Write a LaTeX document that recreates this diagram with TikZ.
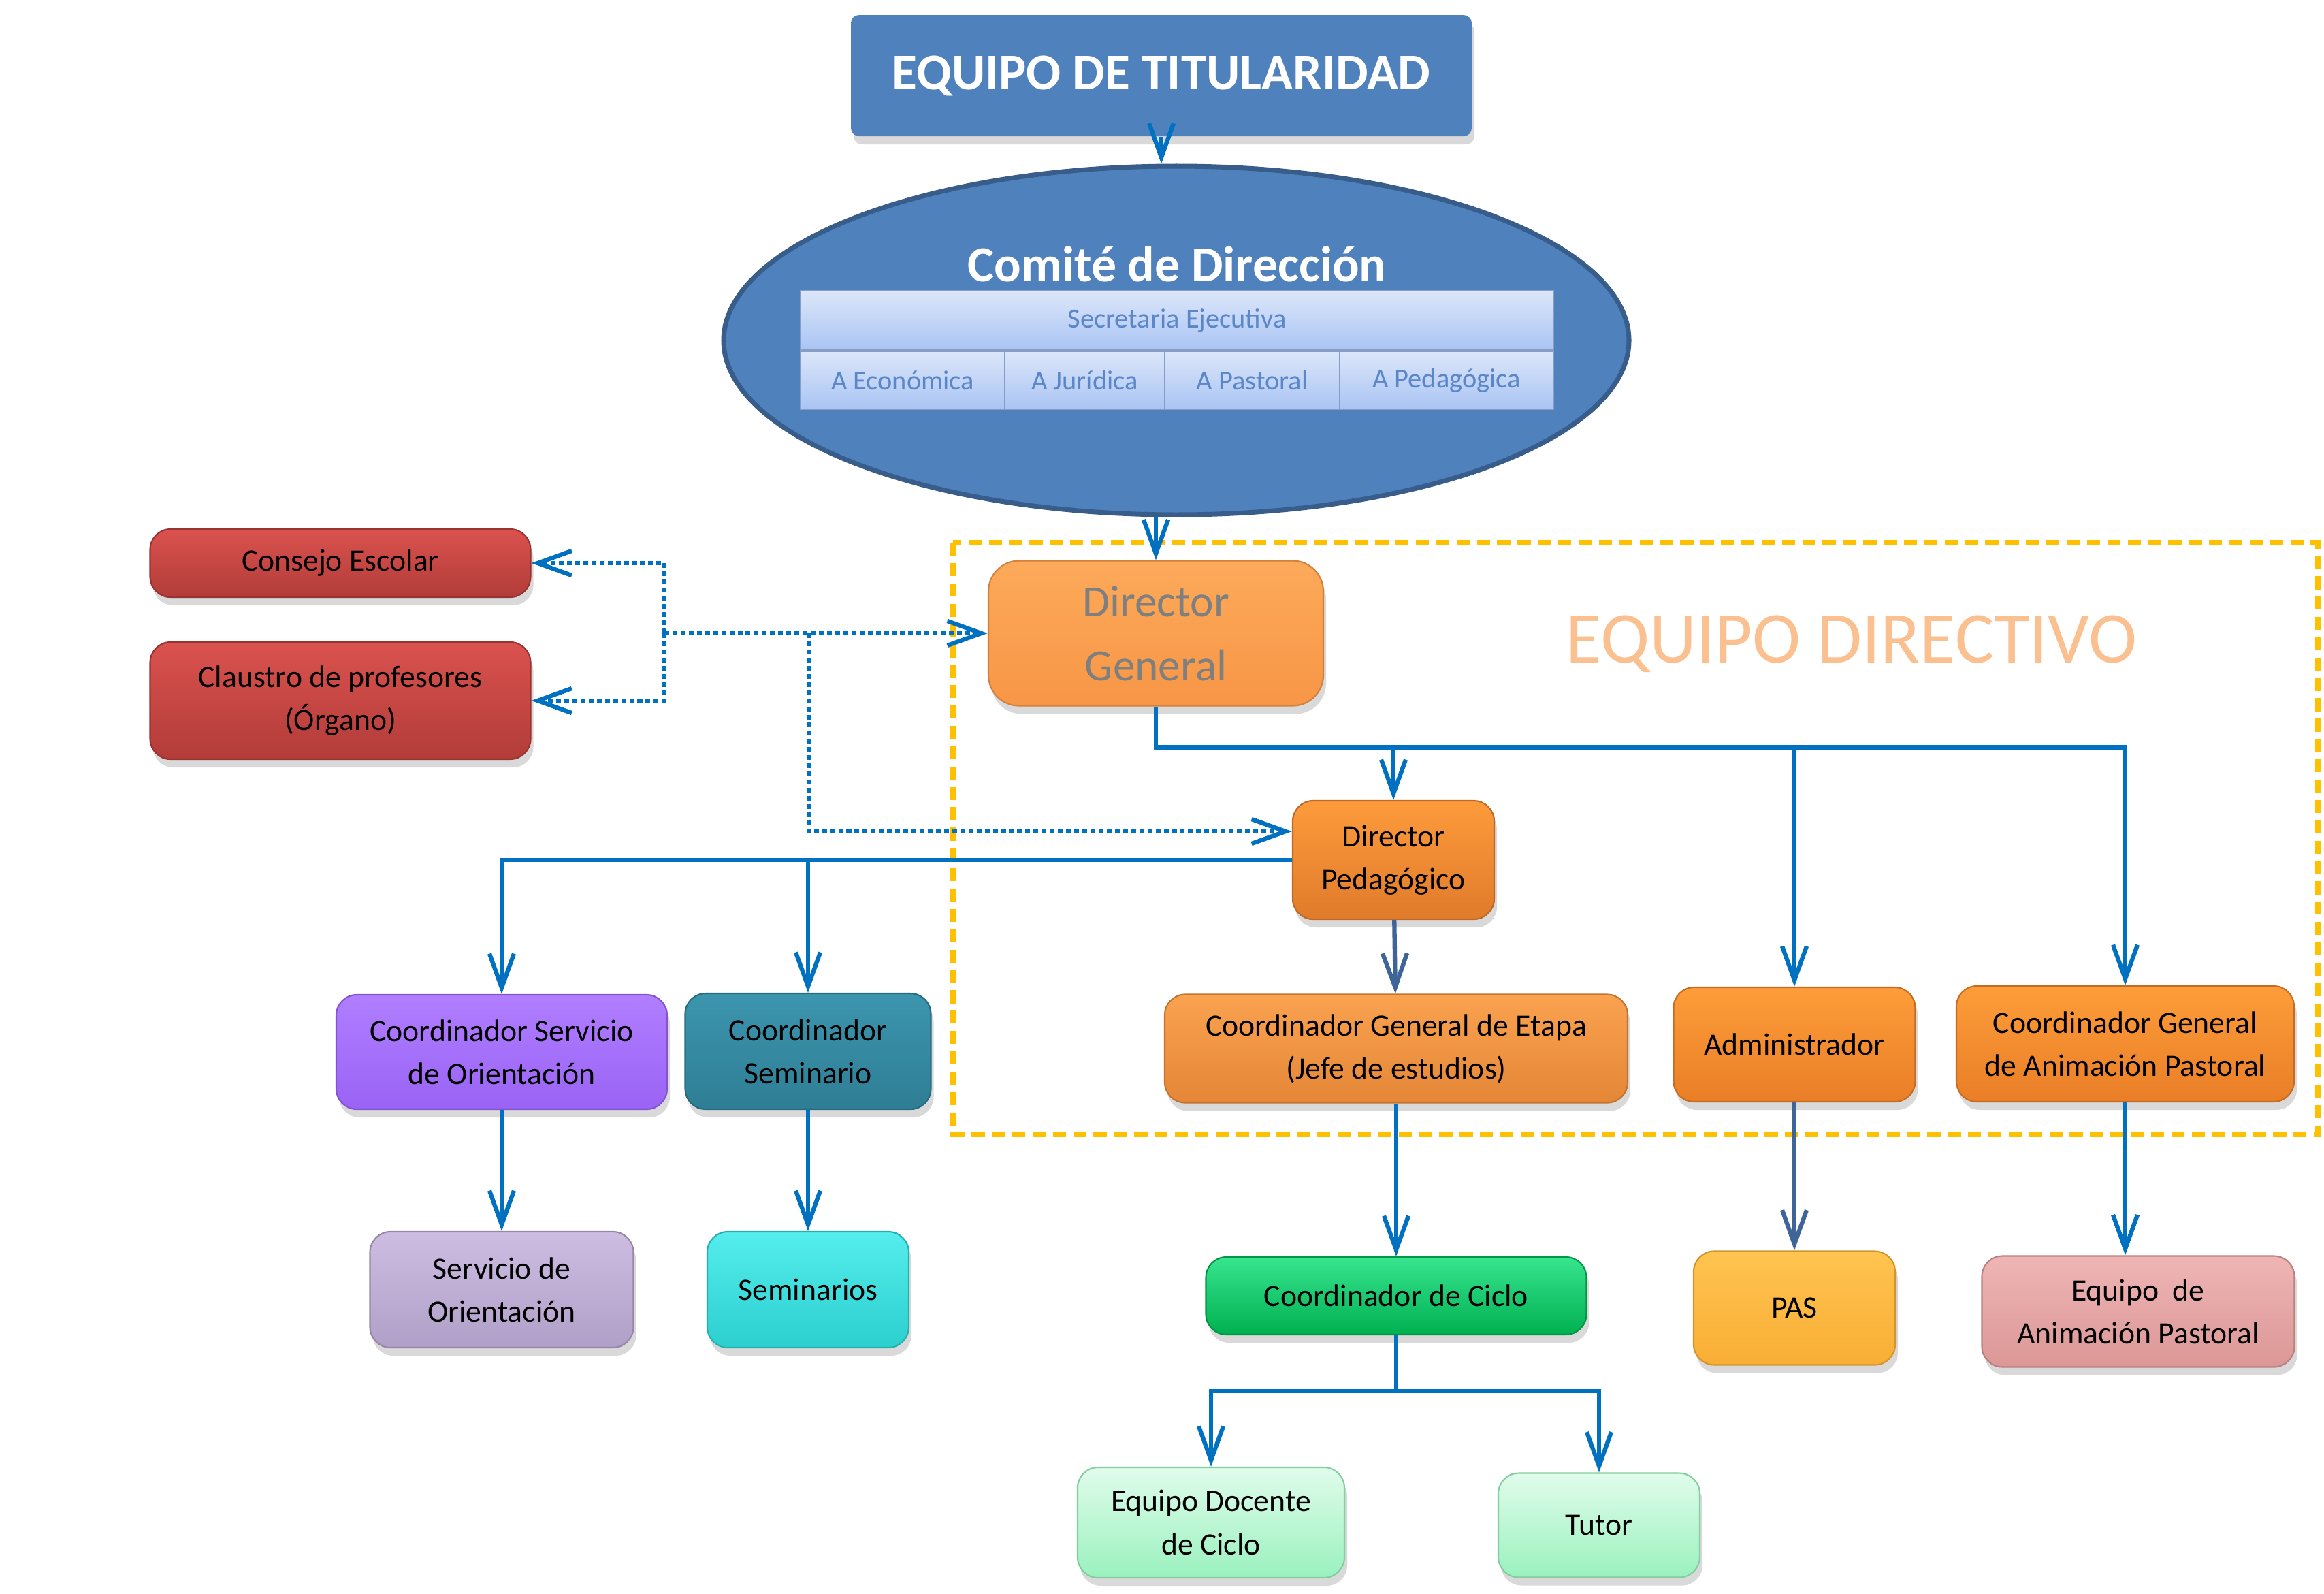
\documentclass[tikz,border=0pt]{standalone}
\usepackage{fontspec}
\setmainfont{Carlito}
\usepackage{xcolor}
\definecolor{titblue}{HTML}{4F81BD}
\definecolor{ellborder}{HTML}{385D8A}
\definecolor{linkblue}{HTML}{0070C0}
\definecolor{slate}{HTML}{3F6498}
\definecolor{subtext}{HTML}{5B87C9}
\definecolor{dirgray}{HTML}{7F7F7F}
\definecolor{equipoorange}{HTML}{FAC090}
\definecolor{frameyellow}{HTML}{FFC000}
\definecolor{dgT}{HTML}{FCAA5A}\definecolor{dgB}{HTML}{F79646}
\definecolor{redT}{HTML}{DA524E}\definecolor{redB}{HTML}{B23C39}
\definecolor{dpT}{HTML}{FD9B3C}\definecolor{dpB}{HTML}{E07B2B}
\definecolor{cgeT}{HTML}{FAA250}\definecolor{cgeB}{HTML}{E48737}
\definecolor{admT}{HTML}{FD9D39}\definecolor{admB}{HTML}{E97E27}
\definecolor{purT}{HTML}{B07EFF}\definecolor{purB}{HTML}{9A63F5}
\definecolor{tealT}{HTML}{3C95AE}\definecolor{tealB}{HTML}{2E7E95}
\definecolor{lavT}{HTML}{CDBDE3}\definecolor{lavB}{HTML}{B09FC6}
\definecolor{cyanT}{HTML}{55EDED}\definecolor{cyanB}{HTML}{2CCFCF}
\definecolor{greenT}{HTML}{37E58F}\definecolor{greenB}{HTML}{00B050}
\definecolor{pasT}{HTML}{FFC450}\definecolor{pasB}{HTML}{F9AE35}
\definecolor{pinkT}{HTML}{EFB5B5}\definecolor{pinkB}{HTML}{DB9796}
\definecolor{mintT}{HTML}{E0FCEB}\definecolor{mintB}{HTML}{9AF1BE}
\definecolor{secT}{HTML}{DCE6F9}\definecolor{secB}{HTML}{A9C4F4}
\usepackage{tikz}
\usetikzlibrary{shapes,shapes.geometric,arrows,arrows.meta}
\usetikzlibrary{positioning,shadows,calc}
\tikzstyle{block} = [rectangle, rounded corners=3mm, line width=0.6pt,
    align=center, font=\fontsize{13}{18}\selectfont, inner sep=2pt,
    drop shadow={opacity=0.3,shadow xshift=0.4mm,shadow yshift=-1.2mm}]
\tikzstyle{subbox} = [rectangle, draw=secB!80!black, line width=0.6pt,
    top color=secT, bottom color=secB,
    text=subtext, font=\fontsize{11.5}{14}\selectfont]
\tikzstyle{line} = [draw, line width=1.8pt, color=linkblue,
    -{Straight Barb[length=5mm,width=3.6mm]}]
\tikzstyle{darkline} = [line, color=slate]
\tikzstyle{dotline} = [line, dash pattern=on 2pt off 1.4pt]
\tikzset{grad/.style 2 args={top color=#1, bottom color=#2, draw=#2!85!black}}

\begin{document}
\begin{tikzpicture}[node distance=3.5cm,auto]
    \useasboundingbox (0,0) rectangle (34.14,-23.40);
    % Place nodes
    \node[rectangle, rounded corners=1.2mm, fill=titblue, text=white,
        minimum width=9.12cm, minimum height=1.78cm,
        font=\bfseries\fontsize{21.5}{26}\selectfont,
        drop shadow={opacity=0.3,shadow xshift=0.4mm,shadow yshift=-1.2mm}]
        (tit) at (17.06,-1.11) {EQUIPO DE TITULARIDAD};
    \node[ellipse, fill=titblue, draw=ellborder, line width=2pt, inner sep=0pt,
        minimum width=13.3cm, minimum height=5.12cm] (comite) at (17.28,-5.00) {};
    \node[text=white, font=\bfseries\fontsize{21}{25}\selectfont]
        (comitetxt) at (17.29,-3.88) {Comité de Dirección};
    \node[subbox, minimum width=11.06cm, minimum height=0.87cm] (seceje) at (17.29,-4.705) {Secretaria Ejecutiva};
    \node[subbox, minimum width=3.00cm, minimum height=0.85cm] (aeco) at (13.26,-5.585) {A Económica};
    \node[subbox, minimum width=2.35cm, minimum height=0.85cm] (ajur) at (15.935,-5.585) {A Jurídica};
    \node[subbox, minimum width=2.57cm, minimum height=0.85cm] (apas) at (18.395,-5.585) {A Pastoral};
    \node[subbox, minimum width=3.14cm, minimum height=0.85cm] (aped) at (21.25,-5.585) {A Pedagógica};

    % equipo directivo frame
    \draw[frameyellow, line width=2.3pt, dash pattern=on 5.5pt off 3pt]
        (14.00,-7.97) rectangle (34.05,-16.66);
    \node[text=equipoorange, font=\fontsize{30.5}{36}\selectfont]
        (eqdir) at (27.20,-9.46) {EQUIPO DIRECTIVO};

    \node[block, grad={dgT}{dgB}, rounded corners=4.5mm, text=dirgray,
        minimum width=4.92cm, minimum height=2.13cm,
        font=\fontsize{18.6}{26.7}\selectfont] (dg) at (16.98,-9.30) {Director\\General};
    \node[block, grad={redT}{redB}, minimum width=5.59cm, minimum height=1.00cm] (consejo) at (5.00,-8.27) {Consejo Escolar};
    \node[block, grad={redT}{redB}, minimum width=5.59cm, minimum height=1.72cm] (claustro) at (5.00,-10.29) {Claustro de profesores\\(Órgano)};
    \node[block, grad={dpT}{dpB}, minimum width=2.96cm, minimum height=1.74cm] (dp) at (20.47,-12.63) {Director\\Pedagógico};

    \node[block, grad={cgeT}{cgeB}, minimum width=6.80cm, minimum height=1.59cm] (cge) at (20.51,-15.40) {Coordinador General de Etapa\\(Jefe de estudios)};
    \node[block, grad={admT}{admB}, minimum width=3.55cm, minimum height=1.68cm] (admin) at (26.36,-15.34) {Administrador};
    \node[block, grad={admT}{admB}, minimum width=4.96cm, minimum height=1.70cm] (cgap) at (31.22,-15.33) {Coordinador General\\de Animación Pastoral};
    \node[block, grad={purT}{purB}, minimum width=4.86cm, minimum height=1.68cm] (cso) at (7.37,-15.45) {Coordinador Servicio\\de Orientación};
    \node[block, grad={tealT}{tealB}, minimum width=3.61cm, minimum height=1.70cm] (csem) at (11.87,-15.44) {Coordinador\\Seminario};

    \node[block, grad={lavT}{lavB}, minimum width=3.87cm, minimum height=1.70cm, below of=cso, node distance=3.49cm] (so) {Servicio de\\Orientación};
    \node[block, grad={cyanT}{cyanB}, minimum width=2.96cm, minimum height=1.70cm, below of=csem, node distance=3.50cm] (semi) {Seminarios};
    \node[block, grad={greenT}{greenB}, minimum width=5.59cm, minimum height=1.14cm, below of=cge, node distance=3.63cm] (cc) {Coordinador de Ciclo};
    \node[block, grad={pasT}{pasB}, minimum width=2.96cm, minimum height=1.67cm, below of=admin, node distance=3.87cm] (pas) {PAS};
    \node[block, grad={pinkT}{pinkB}, minimum width=4.59cm, minimum height=1.63cm] (eap) at (31.41,-19.26) {Equipo \ de\\Animación Pastoral};
    \node[block, grad={mintT}{mintB}, minimum width=3.92cm, minimum height=1.62cm] (edc) at (17.79,-22.36) {Equipo Docente\\de Ciclo};
    \node[block, grad={mintT}{mintB}, minimum width=2.96cm, minimum height=1.53cm] (tutor) at (23.49,-22.40) {Tutor};

    % position dotted hubs
    \coordinate (ndot) at ($(dg.west)+(-4.75,0)$);
    \coordinate (ndot2) at ($(dg.west)+(-2.63,0)$);

    % Draw edges
    \path [line] (tit) -- (tit |- comite.north);
    \path [line] (dg.north |- comite.south) -- (dg.north);
    \path [line] (dg.south) -- ++(0,-0.6) -| (dp.north);
    \path [line] (dg.south) -- ++(0,-0.6) -| (admin.north);
    \path [line] (dg.south) -- ++(0,-0.6) -| (cgap.north);
    \path [darkline] (dp) -- (cge);
    \path [line] (dp.west) -| (cso.north);
    \path [line] (dp.west) -| (csem.north);
    \path [line] (cso) -- (so);
    \path [line] (csem) -- (semi);
    \path [line] (cge) -- (cc);
    \path [darkline] (admin) -- (pas);
    \path [line] (cgap.south) -- (cgap.south |- eap.north);
    \path [line] (cc.south) -- ++(0,-0.82) -| (edc.north);
    \path [line] (cc.south) -- ++(0,-0.82) -| (tutor.north);

    \path [dotline] (ndot) -- (dg.west);
    \path [dotline] (ndot) |- (consejo.east);
    \path [dotline] (ndot) |- (claustro.east);
    \path [dotline] (ndot2) |- ($(dp.west)+(0,0.42)$);
\end{tikzpicture}
\end{document}
